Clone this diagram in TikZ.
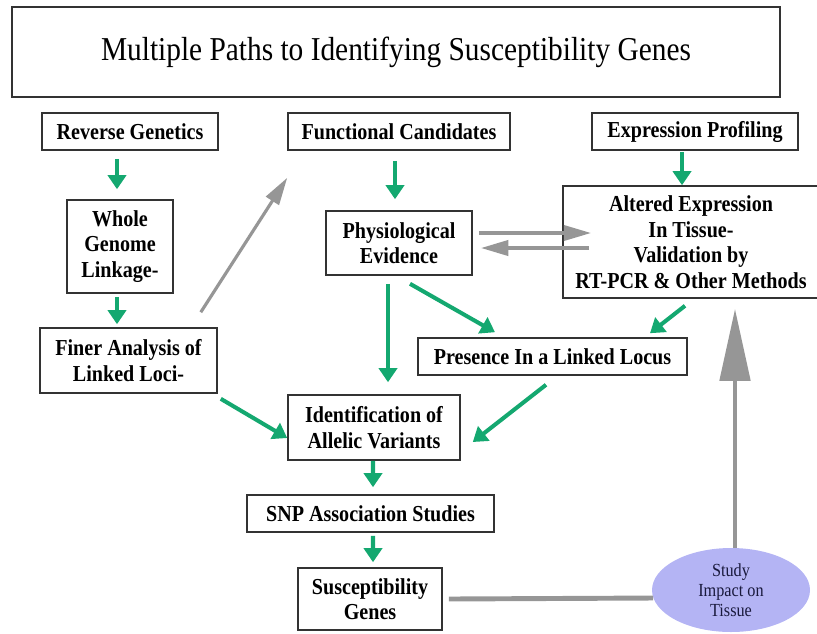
\documentclass[tikz,border=0pt]{standalone}
\usepackage{fontspec}
\setmainfont{Liberation Serif}
\newfontfamily\boxfont[FakeStretch=0.88]{Liberation Serif}
\usepackage{tikz}
\usetikzlibrary{arrows.meta, shapes.geometric}
\definecolor{pathgreen}{RGB}{20,168,112}
\definecolor{pathgray}{RGB}{150,150,150}
\definecolor{tissuefill}{RGB}{180,180,244}
\definecolor{tissuetext}{RGB}{25,25,60}

\begin{document}
\begin{tikzpicture}[x=0.02cm, y=-0.02cm,
    box/.style={draw=black!80, line width=0.9pt, fill=white, align=center, inner sep=0pt,
        font=\boxfont\bfseries\fontsize{13}{14.5}\selectfont},
    greenarrow/.style={draw=pathgreen, line width=2.3pt, -{Triangle[length=0.28cm, width=0.36cm]}},
    grayarrow/.style={draw=pathgray, line width=1.8pt, -{Triangle[length=0.55cm, width=0.3cm]}}]
    \useasboundingbox (0,0) rectangle (817,633);
    % Title
    \node[box, font=\boxfont\fontsize{19}{22}\selectfont, minimum width=15.36cm, minimum height=1.8cm] (title) at (396,52) {Multiple Paths to Identifying Susceptibility Genes};
    % Top row
    \node[box, minimum width=3.52cm, minimum height=0.74cm] (revgen) at (130,131.5) {Reverse Genetics};
    \node[box, minimum width=4.44cm, minimum height=0.74cm] (func) at (399,131.5) {Functional Candidates};
    \node[box, minimum width=4.12cm, minimum height=0.74cm] (expr) at (695,131.5) {Expression Profiling};
    % Middle
    \node[box, minimum width=2.12cm, minimum height=1.86cm] (genome) at (120,246.5) {Whole\\Genome\\Linkage-};
    \node[box, minimum width=2.92cm, minimum height=1.28cm] (phys) at (399,243) {Physiological\\Evidence};
    \node[box, minimum width=5.12cm, minimum height=2.24cm] (altered) at (691,242) {Altered Expression\\In Tissue-\\Validation by\\RT-PCR \& Other Methods};
    \node[box, minimum width=3.54cm, minimum height=1.3cm] (finer) at (128.5,360.5) {Finer Analysis of\\Linked Loci-};
    \node[box, minimum width=5.38cm, minimum height=0.74cm] (presence) at (552.5,356.5) {Presence In a Linked Locus};
    % Lower column
    \node[box, minimum width=3.44cm, minimum height=1.3cm] (ident) at (374,427.5) {Identification of\\Allelic Variants};
    \node[box, minimum width=4.94cm, minimum height=0.74cm] (snp) at (370.5,513.5) {SNP Association Studies};
    \node[box, minimum width=2.88cm, minimum height=1.24cm] (suscept) at (370,599) {Susceptibility\\Genes};
    \node[ellipse, fill=tissuefill, minimum width=3.16cm, minimum height=1.68cm,
        align=center, inner sep=0pt, text=tissuetext, font=\boxfont\fontsize{10.5}{11.5}\selectfont] (tissue) at (731,590) {Study\\Impact on\\Tissue};

    % Green arrows
    \draw[greenarrow] ([shift={(-13,8)}]revgen.south) -- ([shift={(-3,-10)}]genome.north);
    \draw[greenarrow] ([shift={(-3,3)}]genome.south) -- ([shift={(-11.5,-3)}]finer.north);
    \draw[greenarrow] ([shift={(-4,10)}]func.south) -- ([shift={(-4,-11)}]phys.north);
    \draw[greenarrow] ([shift={(-13,1)}]expr.south) -- ([shift={(-9,0)}]altered.north);
    \draw[greenarrow] ([shift={(-11,8)}]phys.south) -- ([shift={(14,-12)}]ident.north);
    \draw[greenarrow] ([shift={(11,8)}]phys.south) -- ([shift={(-57.5,-5)}]presence.north);
    \draw[greenarrow] ([shift={(-6,7)}]altered.south) -- ([shift={(97.5,-4)}]presence.north);
    \draw[greenarrow] ([shift={(3,5)}]finer.south east) -- ([shift={(0,10.5)}]ident.west);
    \draw[greenarrow] ([shift={(-6.5,9)}]presence.south) -- ([shift={(12,14.5)}]ident.east);
    \draw[greenarrow] ([shift={(-1,0)}]ident.south) -- ([shift={(2.5,-7)}]snp.north);
    \draw[greenarrow] ([shift={(2.5,3)}]snp.south) -- ([shift={(3,-5)}]suscept.north);

    % Gray arrows
    \draw[grayarrow] ([shift={(-17,-15)}]finer.north east) -- ([shift={(0,27)}]func.south west);
    \draw[grayarrow, line width=2.2pt] ([shift={(6,-10)}]phys.east) -- ([shift={(29,-9)}]altered.west);
    \draw[grayarrow, line width=2.2pt] ([shift={(27,6)}]altered.west) -- ([shift={(8,5)}]phys.east);
    \draw[draw=pathgray, line width=2.8pt] ([shift={(6,0)}]suscept.east) -- ([shift={(1.5,8)}]tissue.west);
    \draw[draw=pathgray, line width=2.8pt, -{Triangle[length=1.44cm, width=0.6cm]}] ([shift={(4,0)}]tissue.north) -- ([shift={(44,10)}]altered.south);
\end{tikzpicture}
\end{document}
